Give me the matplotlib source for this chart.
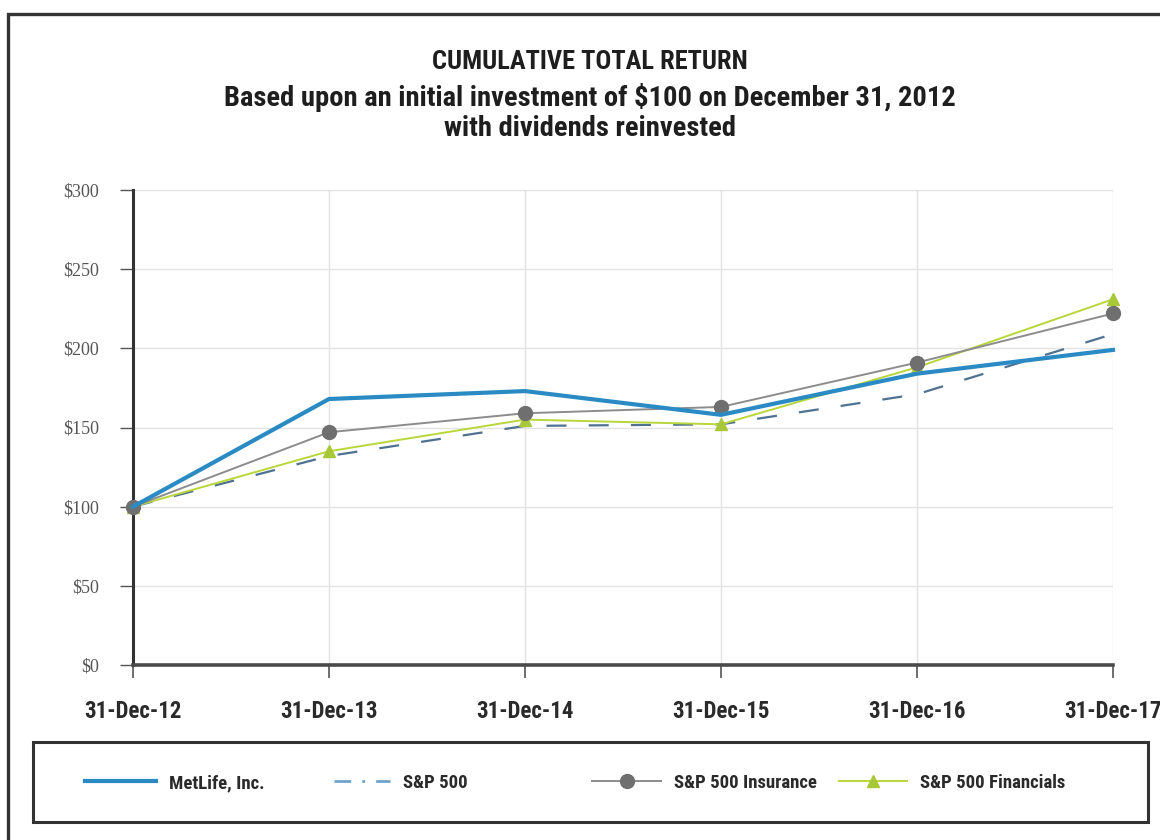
import matplotlib
matplotlib.use("Agg")
import matplotlib.pyplot as plt
from matplotlib import font_manager
from matplotlib.patches import Rectangle
from matplotlib.lines import Line2D

# ---- data -------------------------------------------------------------
dates = ["31-Dec-12", "31-Dec-13", "31-Dec-14", "31-Dec-15", "31-Dec-16", "31-Dec-17"]
metlife = [100, 168, 173, 158, 184, 199]
sp500 = [100, 132, 151, 152, 171, 209]
sp500_insurance = [100, 147, 159, 163, 191, 222]
sp500_financials = [100, 135, 155, 152, 188, 231]
y_ticks = [0, 50, 100, 150, 200, 250, 300]
y_tick_labels = ["$0", "$50", "$100", "$150", "$200", "$250", "$300"]

title_lines = [
    "CUMULATIVE TOTAL RETURN",
    "Based upon an initial investment of $100 on December 31, 2012",
    "with dividends reinvested",
]
title_sizes = [19, 20.5, 20.5]

# ---- fonts ------------------------------------------------------------
available = {f.name for f in font_manager.fontManager.ttflist}

def pick(candidates, default):
    for c in candidates:
        if c in available:
            return c
    return default

narrow = pick(["Roboto Condensed", "Archivo Narrow", "Liberation Sans Narrow",
               "Barlow Condensed", "Open Sans Condensed"], "DejaVu Sans")
serif = pick(["Liberation Serif", "Times New Roman"], "DejaVu Serif")
narrow_stretch = "normal" if narrow != "DejaVu Sans" else "condensed"

W, H = 1160, 840
fig = plt.figure(figsize=(W / 100, H / 100), dpi=100)
fig.patch.set_facecolor("white")

def fx(px):
    return px / W

def fy(py):
    return 1 - py / H

# outer frame (runs past the right and bottom edges)
fig.patches.append(Rectangle((fx(8), fy(900)), fx(1300), fy(14) - fy(900),
                             transform=fig.transFigure, fill=False,
                             edgecolor="#333333", linewidth=2.4))

# titles
for txt, ypx, size in zip(title_lines, [62, 97, 128], title_sizes):
    fig.text(fx(590), fy(ypx), txt, ha="center", va="center",
             fontfamily=narrow, fontstretch=narrow_stretch, fontweight="bold",
             fontsize=size, color="#1e1e1e")

# ---- axes -------------------------------------------------------------
ax = fig.add_axes([fx(133), fy(665), fx(1113) - fx(133), fy(190) - fy(665)])
x = list(range(len(dates)))
ax.set_xlim(0, len(dates) - 1)
ax.set_ylim(0, 300)

ax.grid(True, color="#e3e3e3", linewidth=1.0, zorder=0)
ax.set_axisbelow(True)

for s in ["top", "right"]:
    ax.spines[s].set_visible(False)
ax.spines["left"].set_color("#333333")
ax.spines["left"].set_linewidth(2.2)
ax.spines["bottom"].set_color("#4a4a4a")
ax.spines["bottom"].set_linewidth(2.6)

ax.set_yticks(y_ticks)
ax.set_yticklabels(y_tick_labels, fontfamily=serif, fontsize=13, color="#555555")
ax.set_xticks(x)
ax.set_xticklabels(dates, fontfamily=narrow, fontstretch=narrow_stretch,
                   fontweight="bold", fontsize=16.5, color="#2a2a2a")
ax.tick_params(axis="y", direction="out", length=9.5, width=1.0, color="#555555", pad=15)
ax.tick_params(axis="x", direction="out", length=9, width=1.2, color="#555555", pad=16)

blue = "#2a8bc4"
dash_col = "#4f7192"
gray_line = "#8c8c8c"
gray_mark = "#6f6f6f"
green = "#b9d63a"

ax.plot(x, sp500, color=dash_col, lw=1.6, dashes=(9, 10), zorder=3,
        label="S&P 500", clip_on=False)
ax.plot(x, sp500_financials, color=green, lw=1.4, marker="^", markersize=9,
        markerfacecolor="#a8c83a", markeredgecolor="#a8c83a", zorder=4,
        label="S&P 500 Financials", clip_on=False)
ax.plot(x, sp500_insurance, color=gray_line, lw=1.4, marker="o", markersize=10,
        markerfacecolor=gray_mark, markeredgecolor=gray_mark, zorder=5,
        label="S&P 500 Insurance", clip_on=False)
ax.plot(x, metlife, color=blue, lw=3.0, zorder=6, label="MetLife, Inc.",
        clip_on=False)

# ---- legend -----------------------------------------------------------
fig.patches.append(Rectangle((fx(33), fy(822)), fx(1148) - fx(33), fy(742) - fy(822),
                             transform=fig.transFigure, fill=False,
                             edgecolor="#333333", linewidth=2.2))

legend_entries = [
    (Line2D([], [], color=blue, lw=3.0), "MetLife, Inc.", 85, 3.8),
    (Line2D([], [], color="#6fa3cb", lw=2.0, dashes=(6, 4, 1, 4)), "S&P 500", 334, 3.0),
    (Line2D([], [], color=gray_line, lw=1.4, marker="o", markersize=10,
            markerfacecolor=gray_mark, markeredgecolor=gray_mark), "S&P 500 Insurance", 592, 3.7),
    (Line2D([], [], color=green, lw=1.4, marker="^", markersize=9,
            markerfacecolor="#a8c83a", markeredgecolor="#a8c83a"), "S&P 500 Financials", 839, 3.6),
]
for handle, label, xpx, hlen in legend_entries:
    leg = fig.legend([handle], [label], loc="center left",
                     bbox_to_anchor=(fx(xpx), fy(783)), frameon=False,
                     handlelength=hlen, handletextpad=0.7, borderpad=0, borderaxespad=0,
                     prop={"family": narrow, "stretch": narrow_stretch,
                           "weight": "bold", "size": 13.5})
    for t in leg.get_texts():
        t.set_color("#2a2a2a")

fig.savefig("out.png", dpi=100, facecolor="white")
